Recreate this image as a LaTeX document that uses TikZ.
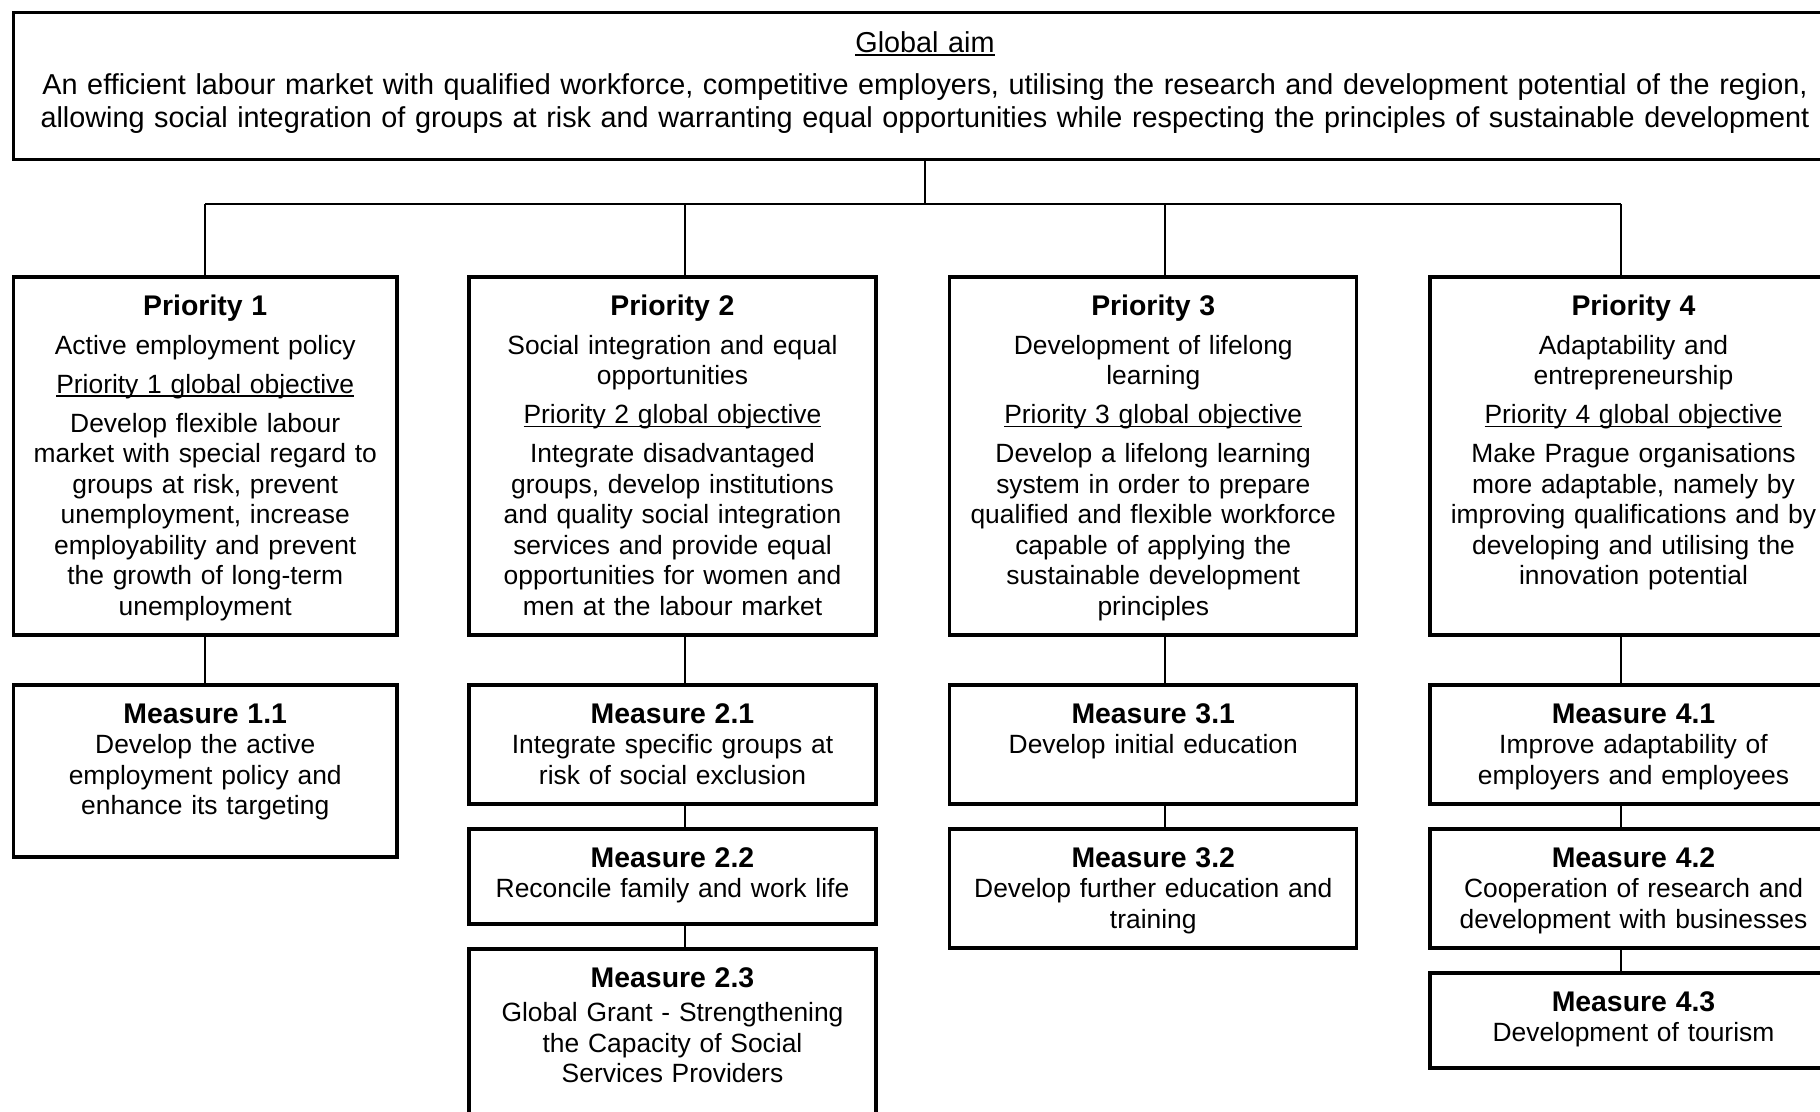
\documentclass[tikz,border=0pt]{standalone}
\usepackage{fontspec}
\setmainfont{Liberation Sans}
\usepackage{tikz}
\usetikzlibrary{calc}

\newcommand{\undl}[1]{\leavevmode\setbox0\hbox{#1}\rlap{\rule[-1.7pt]{\wd0}{0.9pt}}\box0}
\newcommand{\ttl}[1]{{\fontsize{14.2}{15.25}\selectfont\bfseries #1}}

\begin{document}
\begin{tikzpicture}[
x=0.5pt, y=-0.5pt,
Aim/.style={rectangle, draw=black, line width=1.6pt, inner sep=0pt, outer sep=0pt,
anchor=north, align=center, font=\fontsize{14.4}{16.6}\selectfont},
Prio/.style={rectangle, draw=black, line width=1.6pt, inner sep=0pt, outer sep=0pt,
anchor=north, align=center, font=\fontsize{13.2}{15.25}\selectfont, text height=19.5pt},
Meas/.style={rectangle, draw=black, line width=1.6pt, inner sep=0pt, outer sep=0pt,
anchor=north, align=center, font=\fontsize{13.2}{15.25}\selectfont, text height=19pt},
Link/.style={draw=black, line width=0.75pt},
]
	\clip (0,0) rectangle (1820,1112);

	\node[
	Aim, 
	text width=911.5pt, 
	text height=20.1pt, 
	text depth=53.4pt,
	] (aim) 
	at (925,12.5)
	{\undl{Global aim}\\[4.1pt]
	An efficient labour market with qualified workforce, competitive employers, utilising the research and development potential of the region,\\
	allowing social integration of groups at risk and warranting equal opportunities while respecting the principles of sustainable development};

	% priorities
	\node[
	Prio, 
	text width=191.75pt, 
	text depth=159.5pt,
	] (p1) 
	at (205.25,277)
	{\ttl{Priority 1}\\[4pt]
	Active employment policy\\[4.25pt]
	\undl{Priority 1 global objective}\\[4.25pt]
	Develop flexible labour\\ market with special regard to\\ groups at risk, prevent\\
	unemployment, increase\\ employability and prevent\\ the growth of long-term\\ unemployment};
	\node[
	Prio, 
	text width=203.5pt, 
	text depth=159.5pt,
	] (p2) 
	at (672.5,277)
	{\ttl{Priority 2}\\[4pt]
	Social integration and equal\\ opportunities\\[4.25pt]
	\undl{Priority 2 global objective}\\[4.25pt]
	Integrate disadvantaged\\ groups, develop institutions\\ and quality social integration\\
	services and provide equal\\ opportunities for women and\\ men at the labour market};
	\node[
	Prio, 
	text width=203.5pt, 
	text depth=159.5pt,
	] (p3) 
	at (1153.25,277)
	{\ttl{Priority 3}\\[4pt]
	Development of lifelong\\ learning\\[4.25pt]
	\undl{Priority 3 global objective}\\[4.25pt]
	Develop a lifelong learning\\ system in order to prepare\\ qualified and flexible workforce\\
	capable of applying the\\ sustainable development\\ principles};
	\node[
	Prio, 
	text width=203.5pt, 
	text depth=159.5pt,
	] (p4) 
	at (1633.5,277)
	{\ttl{Priority 4}\\[4pt]
	Adaptability and\\ entrepreneurship\\[4.25pt]
	\undl{Priority 4 global objective}\\[4.25pt]
	Make Prague organisations\\ more adaptable, namely by\\ improving qualifications and by\\
	developing and utilising the\\ innovation potential};

	% measures
	\node[
	Meas, 
	text width=191.75pt, 
	text depth=67pt,
	] (m11) 
	at ($ (p1.south) + (0,50) $)
	{\ttl{Measure 1.1}\\ Develop the active\\ employment policy and\\ enhance its targeting};

	\node[
	Meas, 
	text width=203.5pt, 
	text depth=40.5pt,
	] (m21) 
	at ($ (p2.south) + (0,50) $)
	{\ttl{Measure 2.1}\\ Integrate specific groups at\\ risk of social exclusion};
	\node[
	Meas, 
	text width=203.5pt, 
	text depth=28.5pt,
	] (m22) 
	at ($ (m21.south) + (0,25) $)
	{\ttl{Measure 2.2}\\ Reconcile family and work life};
	\node[
	Meas, 
	text width=203.5pt, 
	text depth=71.5pt,
	] (m23) 
	at ($ (m22.south) + (0,25) $)
	{\ttl{Measure 2.3}\\[2pt] Global Grant - Strengthening\\ the Capacity of Social\\ Services Providers};

	\node[
	Meas, 
	text width=203.5pt, 
	text depth=40.5pt,
	] (m31) 
	at ($ (p3.south) + (0,50) $)
	{\ttl{Measure 3.1}\\ Develop initial education};
	\node[
	Meas, 
	text width=203.5pt, 
	text depth=40.5pt,
	] (m32) 
	at ($ (m31.south) + (0,25) $)
	{\ttl{Measure 3.2}\\ Develop further education and\\ training};

	\node[
	Meas, 
	text width=203.5pt, 
	text depth=40.5pt,
	] (m41) 
	at ($ (p4.south) + (0,50) $)
	{\ttl{Measure 4.1}\\ Improve adaptability of\\ employers and employees};
	\node[
	Meas, 
	text width=203.5pt, 
	text depth=40.5pt,
	] (m42) 
	at ($ (m41.south) + (0,25) $)
	{\ttl{Measure 4.2}\\ Cooperation of research and\\ development with businesses};
	\node[
	Meas, 
	text width=203.5pt, 
	text depth=28.5pt,
	] (m43) 
	at ($ (m42.south) + (0,25) $)
	{\ttl{Measure 4.3}\\ Development of tourism};

	% connectors
	\coordinate (c1) at (205,204);
	\coordinate (c2) at (685,204);
	\coordinate (c3) at (1165,204);
	\coordinate (c4) at (1621,204);
	\draw[Link] (aim.south) -- (aim.south |- c1);
	\draw[Link] (c1) -- (c4);
	\draw[Link] (c1) -- (p1.north -| c1);
	\draw[Link] (c2) -- (p2.north -| c2);
	\draw[Link] (c3) -- (p3.north -| c3);
	\draw[Link] (c4) -- (p4.north -| c4);
	\draw[Link] (p1.south -| c1) -- (m11.north -| c1);
	\draw[Link] (p2.south -| c2) -- (m21.north -| c2);
	\draw[Link] (m21.south -| c2) -- (m22.north -| c2);
	\draw[Link] (m22.south -| c2) -- (m23.north -| c2);
	\draw[Link] (p3.south -| c3) -- (m31.north -| c3);
	\draw[Link] (m31.south -| c3) -- (m32.north -| c3);
	\draw[Link] (p4.south -| c4) -- (m41.north -| c4);
	\draw[Link] (m41.south -| c4) -- (m42.north -| c4);
	\draw[Link] (m42.south -| c4) -- (m43.north -| c4);
\end{tikzpicture}
\end{document}
